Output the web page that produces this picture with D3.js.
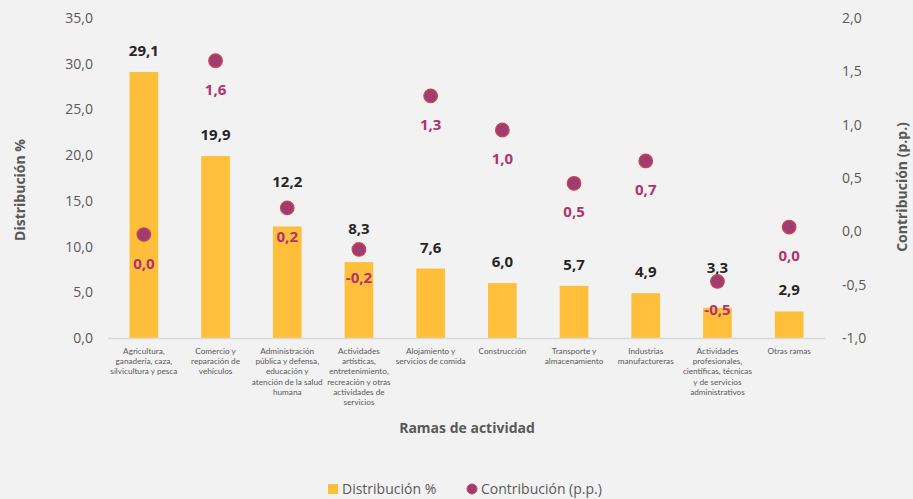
<!DOCTYPE html>
<html><head><meta charset="utf-8">
<script src="https://cdn.jsdelivr.net/npm/d3@7"></script>
<style>
html,body{margin:0;padding:0;background:#f2f2f2;}
svg{display:block;font-family:"Open Sans","Noto Sans",sans-serif;}
</style></head>
<body><svg id="c" width="913" height="499"></svg>
<script>
const categories = [
  ["Agricultura,","ganadería, caza,","silvicultura y pesca"],
  ["Comercio y","reparación de","vehículos"],
  ["Administración","pública y defensa,","educación y","atención de la salud","humana"],
  ["Actividades","artísticas,","entretenimiento,","recreación y otras","actividades de","servicios"],
  ["Alojamiento y","servicios de comida"],
  ["Construcción"],
  ["Transporte y","almacenamiento"],
  ["Industrias","manufactureras"],
  ["Actividades","profesionales,","científicas, técnicas","y de servicios","administrativos"],
  ["Otras ramas"]
];
const distribucion = [29.1, 19.9, 12.2, 8.3, 7.6, 6.0, 5.7, 4.9, 3.3, 2.9];
const contribucion = [-0.03, 1.6, 0.22, -0.17, 1.27, 0.95, 0.45, 0.66, -0.47, 0.04];
const contribucionLabels = ["0,0","1,6","0,2","-0,2","1,3","1,0","0,5","0,7","-0,5","0,0"];
const leftTicks = [0,5,10,15,20,25,30,35];
const rightTicks = [-1,-0.5,0,0.5,1,1.5,2];

const svg = d3.select("#c");
const fmt1 = d => d.toFixed(1).replace(".", ",");
const x = d3.scaleBand().domain(d3.range(categories.length)).range([108, 825]).paddingInner(0.6).paddingOuter(0.3);
const yL = d3.scaleLinear().domain([0, 35]).range([338, 18]);
const yR = d3.scaleLinear().domain([-1, 2]).range([338, 18]);
const grey = "#595959";

// left axis
const axL = svg.append("g").attr("transform","translate(100,0)")
  .call(d3.axisLeft(yL).tickValues(leftTicks).tickFormat(fmt1).tickSize(0).tickPadding(7));
axL.select(".domain").remove();
axL.selectAll("text").attr("fill", grey).style("font-size","14px").style("font-family","'Open Sans',sans-serif");

// right axis
const axR = svg.append("g").attr("transform","translate(835,0)")
  .call(d3.axisRight(yR).tickValues(rightTicks).tickFormat(fmt1).tickSize(0).tickPadding(7));
axR.select(".domain").remove();
axR.selectAll("text").attr("fill", grey).style("font-size","14px").style("font-family","'Open Sans',sans-serif");

// bars
const bw = x.bandwidth();
svg.append("g").selectAll("rect").data(distribucion).join("rect")
  .attr("x", (d,i) => x(i)).attr("width", bw)
  .attr("y", d => yL(d)).attr("height", d => yL(0) - yL(d))
  .attr("fill", "#ffbf3b");

// baseline
svg.append("line").attr("x1",108).attr("x2",825).attr("y1",yL(0)+0.5).attr("y2",yL(0)+0.5)
  .attr("stroke","#d9d9d9").attr("stroke-width",1.5);

// bar labels (some lifted to clear the dots, as in the original)
const barLabelExtra = {2: 23, 3: 12, 8: 19};
svg.append("g").selectAll("text").data(distribucion).join("text")
  .attr("x", (d,i) => x(i) + bw/2)
  .attr("y", (d,i) => yL(d) - 16 - (barLabelExtra[i] || 0))
  .attr("text-anchor","middle").attr("font-weight","bold").attr("font-size","15px").attr("fill","#262626")
  .text(d => fmt1(d));

// dots
svg.append("g").selectAll("circle").data(contribucion).join("circle")
  .attr("cx", (d,i) => x(i) + bw/2).attr("cy", d => yR(d)).attr("r", 6.8)
  .attr("fill", "#a23b72").attr("stroke", "#c9484d").attr("stroke-width", 1.2);

// dot labels
svg.append("g").selectAll("text").data(contribucion).join("text")
  .attr("x", (d,i) => x(i) + bw/2)
  .attr("y", d => yR(d) + 34)
  .attr("text-anchor","middle").attr("font-weight","bold").attr("font-size","15px").attr("fill","#b0336f")
  .text((d,i) => contribucionLabels[i]);

// category labels
const cg = svg.append("g");
categories.forEach((lines, i) => {
  const t = cg.append("text").attr("text-anchor","middle").attr("fill", grey)
    .attr("font-size","8.2px").style("font-family","Lato,'Open Sans',sans-serif");
  lines.forEach((ln, j) => {
    t.append("tspan").attr("x", x(i) + bw/2).attr("y", 354 + j*10.2).text(ln);
  });
});

// axis titles
svg.append("text").attr("x", 467).attr("y", 433).attr("text-anchor","middle")
  .attr("font-weight","bold").attr("font-size","14px").attr("fill", grey).text("Ramas de actividad");
svg.append("text").attr("transform","translate(25,190) rotate(-90)").attr("text-anchor","middle")
  .attr("font-weight","bold").attr("font-size","14px").attr("fill", grey).text("Distribución %");
svg.append("text").attr("transform","translate(907,187) rotate(-90)").attr("text-anchor","middle")
  .attr("font-weight","bold").attr("font-size","14px").attr("fill", grey).text("Contribución (p.p.)");

// legend
const lg = svg.append("g");
lg.append("rect").attr("x", 328).attr("y", 484).attr("width", 10).attr("height", 10).attr("fill", "#ffbf3b");
lg.append("text").attr("x", 342).attr("y", 494).attr("font-size","14px").attr("fill", grey).text("Distribución %");
lg.append("circle").attr("cx", 472).attr("cy", 489).attr("r", 5).attr("fill", "#a23b72").attr("stroke", "#c9484d");
lg.append("text").attr("x", 481).attr("y", 494).attr("font-size","14px").attr("fill", grey).text("Contribución (p.p.)");
</script></body></html>
